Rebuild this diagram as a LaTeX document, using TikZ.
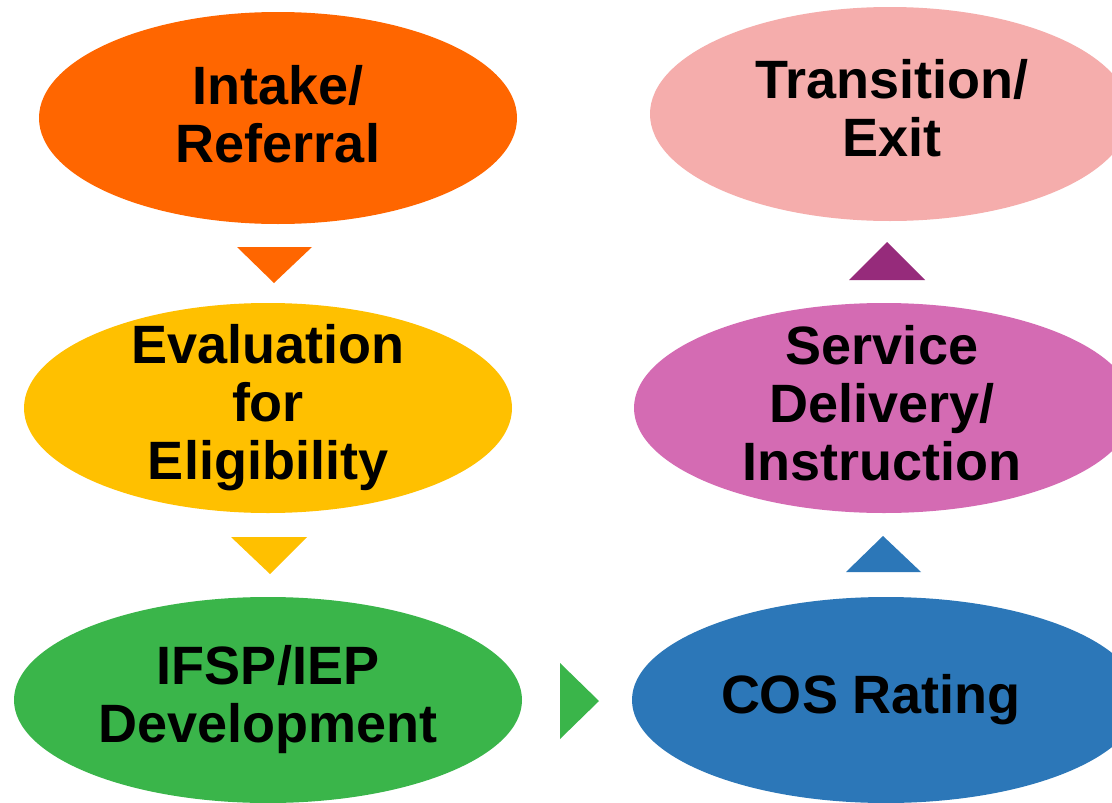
\documentclass[tikz,border=0pt]{standalone}
\usepackage{fontspec}
\setmainfont{Liberation Sans}
\usetikzlibrary{shapes.geometric}
\definecolor{cOrange}{HTML}{FF6600}
\definecolor{cYellow}{HTML}{FFC000}
\definecolor{cGreen}{HTML}{3AB54A}
\definecolor{cPink}{HTML}{F5ADAC}
\definecolor{cMagenta}{HTML}{D46BB3}
\definecolor{cBlue}{HTML}{2C77B8}
\definecolor{cPlum}{HTML}{962B7B}
\begin{document}
\begin{tikzpicture}[x=1pt,y=-1pt,
  stage/.style={ellipse,inner sep=0pt,draw=none},
  lbl/.style={align=center,inner sep=0pt,font=\fontsize{54}{58}\selectfont\bfseries,text=black}]
\useasboundingbox (0,0) rectangle (1112,803);
\clip (0,0) rectangle (1112,803);
\fill[white] (0,0) rectangle (1112,803);

% process stages
\node[stage,fill=cOrange,minimum width=478pt,minimum height=212pt] (intake) at (278,118) {};
\node[stage,fill=cYellow,minimum width=488pt,minimum height=210pt] (eval) at (268,408) {};
\node[stage,fill=cGreen,minimum width=508pt,minimum height=206pt] (ifsp) at (268,700) {};
\node[stage,fill=cBlue,minimum width=508pt,minimum height=206pt] (cos) at (886,700) {};
\node[stage,fill=cMagenta,minimum width=500pt,minimum height=210pt] (serv) at (884,408) {};
\node[stage,fill=cPink,minimum width=480pt,minimum height=214pt] (trans) at (890,114) {};

% stage labels (shifts are in page points, positive = up)
\node[lbl] (intake-t) at ([yshift=4pt]intake.center) {Intake/\\Referral};
\node[lbl] (eval-t) at (eval.center) {Evaluation\\for\\Eligibility};
\node[lbl] (ifsp-t) at (ifsp.center) {IFSP/IEP\\Development};
\node[lbl] (cos-t) at ([xshift=-15pt]cos.center) {COS Rating};
\node[lbl] (serv-t) at ([xshift=-2pt,yshift=5pt]serv.center) {Service\\Delivery/\\Instruction};
\node[lbl] (trans-t) at ([xshift=2pt,yshift=6pt]trans.center) {Transition/\\Exit};

% triangular arrows between stages
\coordinate (a1) at (274,265);
\fill[cOrange] ([xshift=-37pt,yshift=18pt]a1) -- ([xshift=38pt,yshift=18pt]a1) -- ([yshift=-18pt]a1) -- cycle;
\coordinate (a2) at (270,555);
\fill[cYellow] ([xshift=-39pt,yshift=18pt]a2) -- ([xshift=37pt,yshift=18pt]a2) -- ([yshift=-19pt]a2) -- cycle;
\coordinate (a3) at (579,701);
\fill[cGreen] ([xshift=-19pt,yshift=38pt]a3) -- ([xshift=-19pt,yshift=-38pt]a3) -- ([xshift=20pt]a3) -- cycle;
\coordinate (a4) at (883,554);
\fill[cBlue] ([xshift=-37pt,yshift=-18pt]a4) -- ([xshift=38pt,yshift=-18pt]a4) -- ([yshift=18pt]a4) -- cycle;
\coordinate (a5) at (887,261);
\fill[cPlum] ([xshift=-38pt,yshift=-19pt]a5) -- ([xshift=38pt,yshift=-19pt]a5) -- ([yshift=19pt]a5) -- cycle;
\end{tikzpicture}
\end{document}
